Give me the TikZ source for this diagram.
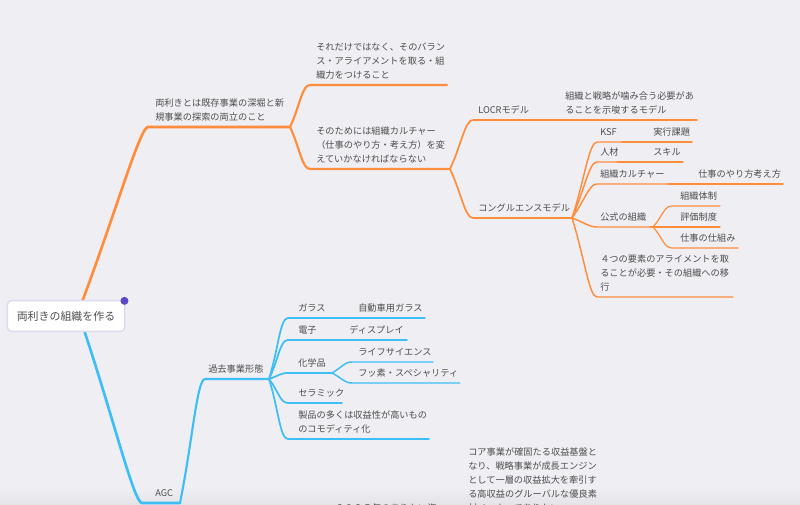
\documentclass[tikz,border=0pt]{standalone}
\usepackage{fontspec}
\newfontfamily\jpfont{Noto Sans CJK JP}
\usetikzlibrary{calc}

\definecolor{bgcol}{HTML}{EFEEF3}
\definecolor{bgdark}{HTML}{E4E4E8}
\definecolor{orng}{HTML}{FF8D3B}
\definecolor{skyb}{HTML}{3DBEF6}
\definecolor{txtgray}{HTML}{4E4E4E}
\definecolor{rootline}{HTML}{DCDAF0}
\definecolor{dotcol}{HTML}{5A48C8}

\tikzset{
    topictext/.style={anchor=south west, inner sep=0pt, text depth=0pt,
        align=left, text=txtgray, font=\jpfont\fontsize{6.9}{10.5}\selectfont},
    link/.style={to path={.. controls ($(\tikztostart)!0.5!(\tikztotarget)$)
        and ($(\tikztotarget)+(-8,0)$) .. (\tikztotarget)}},
    obranch/.style={draw=orng, line width=#1, line cap=round},
    bbranch/.style={draw=skyb, line width=#1, line cap=round},
}

% name, line start x, line end x, line y, text x, text
\newcommand\topic[6]{%
    \coordinate (#1-s) at (#2,#4);
    \coordinate (#1-e) at (#3,#4);
    \node[topictext] (#1) at (#5,#4-6) {#6};}

\begin{document}
\begin{tikzpicture}[x=0.75pt, y=-0.75pt]
    \useasboundingbox (0,0) rectangle (800,505);
    \clip (0,0) rectangle (800,505);
    \fill[bgcol] (0,0) rectangle (800,505);
    \shade[top color=bgcol, bottom color=bgdark] (0,488) rectangle (800,505);

    % orange side
    \topic{l1o}{148}{290}{127}{155}{両利きとは既存事業の深堀と新\\規事業の探索の両立のこと}
    \topic{a1}{310}{447}{85}{316}{それだけではなく、そのバラン\\ス・アライアメントを取る・組\\織力をつけること}
    \topic{a2}{310}{450}{169}{316}{そのためには組織カルチャー\\（仕事のやり方・考え方）を変\\えていかなければならない}
    \topic{locr}{473}{535}{120}{478}{LOCRモデル}
    \topic{lmodel}{535}{697}{120}{565}{組織と戦略が噛み合う必要があ\\ることを示唆するモデル}
    \topic{cong}{473}{572}{218}{478}{コングルエンスモデル}
    \topic{ksf}{597}{622}{142}{600}{KSF}
    \topic{jikko}{622}{692}{142}{653}{実行課題}
    \topic{jinzai}{597}{617}{162}{600}{人材}
    \topic{skill}{617}{683}{162}{653}{スキル}
    \topic{culture}{597}{668}{184}{600}{組織カルチャー}
    \topic{yarikata}{668}{783}{184}{698}{仕事のやり方考え方}
    \topic{koshiki}{597}{653}{227}{600}{公式の組織}
    \topic{taisei}{672}{720}{206}{680}{組織体制}
    \topic{hyoka}{653}{720}{227}{680}{評価制度}
    \topic{shikumi}{672}{738}{248}{680}{仕事の仕組み}
    \topic{align4}{597}{733}{297}{600}{４つの要素のアライメントを取\\ることが必要・その組織への移\\行}

    % blue side
    \topic{agc}{142}{180}{503}{155}{AGC}
    \topic{kako}{205}{269}{379}{208}{過去事業形態}
    \topic{glass}{288}{345}{318}{298}{ガラス}
    \topic{auto}{345}{425}{318}{358}{自動車用ガラス}
    \topic{denshi}{288}{335}{340}{298}{電子}
    \topic{display}{335}{407}{340}{349}{ディスプレイ}
    \topic{kagaku}{288}{332}{373}{298}{化学品}
    \topic{life}{352}{433}{362}{358}{ライフサイエンス}
    \topic{fusso}{352}{460}{383}{358}{フッ素・スペシャリティ}
    \topic{ceramic}{288}{342}{403}{298}{セラミック}
    \topic{seihin}{288}{429}{439}{298}{製品の多くは収益性が高いもの\\のコモディティ化}
    % these two run past the lower edge
    \topic{vision}{330}{445}{518}{335}{２０２５年のありたい姿}
    \topic{core}{445}{600}{518}{468}{コア事業が確固たる収益基盤と\\なり、戦略事業が成長エンジン\\として一層の収益拡大を牽引す\\る高収益のグルーバルな優良素\\材メーカーでありたい}

    \coordinate (root-o) at (82,302);
    \coordinate (root-b) at (84,330);

    \draw[obranch=2pt] (root-o) to[link] (l1o-s) -- (l1o-e);
    \draw[obranch=1.6pt] (l1o-e) to[link] (a1-s) -- (a1-e);
    \draw[obranch=1.6pt] (l1o-e) to[link] (a2-s) -- (a2-e);
    \draw[obranch=1.3pt] (a2-e) to[link] (locr-s) -- (locr-e);
    \draw[obranch=1.1pt] (locr-e) -- (lmodel-e);
    \draw[obranch=1.3pt] (a2-e) to[link] (cong-s) -- (cong-e);
    \foreach \t in {ksf, jinzai, culture, koshiki, align4}
        \draw[obranch=1.1pt] (cong-e) to[link] (\t-s) -- (\t-e);
    \draw[obranch=0.9pt] (ksf-e) -- (jikko-e);
    \draw[obranch=0.9pt] (jinzai-e) -- (skill-e);
    \draw[obranch=0.9pt] (culture-e) -- (yarikata-e);
    \foreach \t in {taisei, hyoka, shikumi}
        \draw[obranch=0.9pt] (koshiki-e) to[link] (\t-s) -- (\t-e);

    \draw[bbranch=2pt] (root-b) to[link] (agc-s) -- (agc-e);
    \draw[bbranch=1.6pt] (agc-e) to[link] (kako-s) -- (kako-e);
    \foreach \t in {glass, denshi, kagaku, ceramic, seihin}
        \draw[bbranch=1.3pt] (kako-e) to[link] (\t-s) -- (\t-e);
    \draw[bbranch=1.1pt] (glass-e) -- (auto-e);
    \draw[bbranch=1.1pt] (denshi-e) -- (display-e);
    \foreach \t in {life, fusso}
        \draw[bbranch=1.1pt] (kagaku-e) to[link] (\t-s) -- (\t-e);

    % central topic
    \node[draw=rootline, line width=1.2pt, fill=white, rounded corners=3pt,
        minimum width=88pt, minimum height=23pt, inner sep=0pt, text=txtgray,
        font=\jpfont\fontsize{8.2}{10}\selectfont] (root) at (66,316) {両利きの組織を作る};
    \fill[dotcol] (root.north east) ++(-1,1) circle[radius=3pt];
\end{tikzpicture}
\end{document}
